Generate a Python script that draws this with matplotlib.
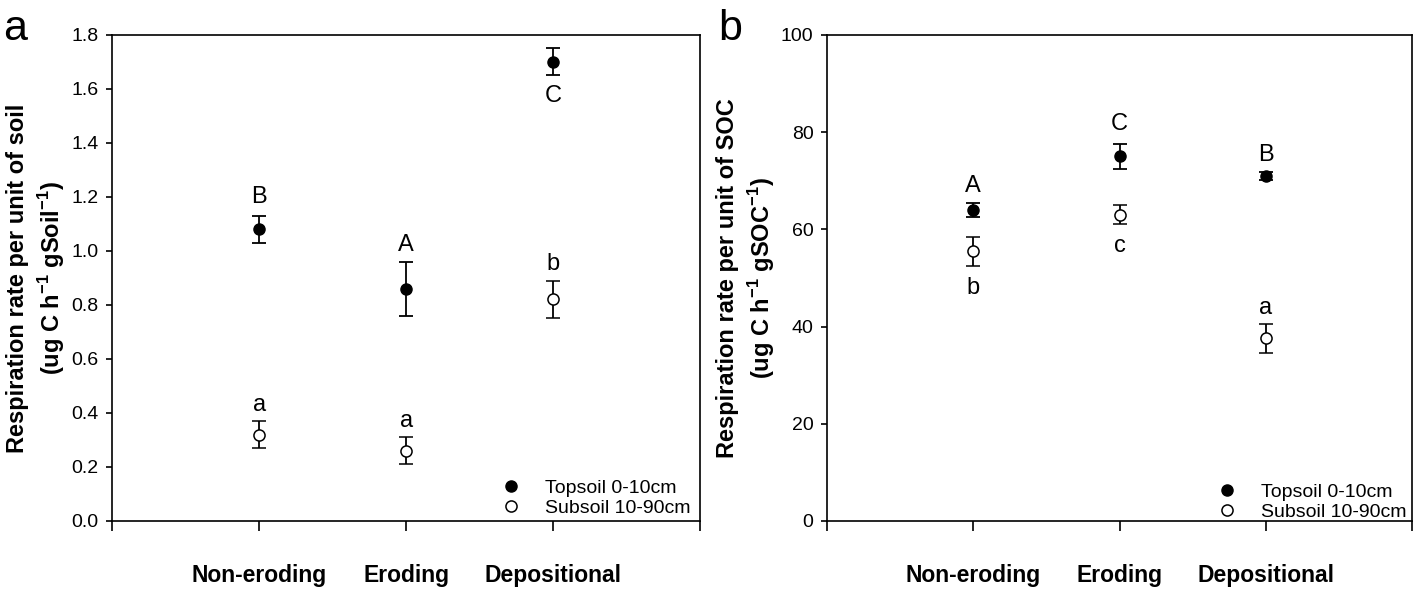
import numpy as np
import matplotlib
matplotlib.use("Agg")
import matplotlib.pyplot as plt

plt.rcParams['font.family'] = ['Liberation Sans', 'DejaVu Sans']
plt.rcParams['mathtext.fontset'] = 'custom'
plt.rcParams['mathtext.rm'] = 'Liberation Sans'
plt.rcParams['mathtext.bf'] = 'Liberation Sans:bold'

sites = ["Non-eroding", "Eroding", "Depositional"]

# panel a: respiration per unit of soil
soil_top = [1.08, 0.86, 1.70]
soil_top_err = [0.05, 0.10, 0.05]
soil_sub = [0.32, 0.26, 0.82]
soil_sub_err = [0.05, 0.05, 0.07]
soil_top_letters = ["B", "A", "C"]
soil_top_letter_y = [1.20, 1.02, 1.575]
soil_sub_letters = ["a", "a", "b"]
soil_sub_letter_y = [0.43, 0.37, 0.95]

# panel b: respiration per unit of SOC
soc_top = [64.0, 75.0, 71.0]
soc_top_err = [1.5, 2.5, 0.8]
soc_sub = [55.5, 63.0, 37.6]
soc_sub_err = [3.0, 2.0, 3.0]
soc_top_letters = ["A", "C", "B"]
soc_top_letter_y = [69.0, 81.7, 75.3]
soc_sub_letters = ["b", "c", "a"]
soc_sub_letter_y = [47.9, 56.6, 43.9]

fig = plt.figure(figsize=(14.18, 5.9), dpi=100)
ax_a = fig.add_axes([0.079, 0.117, 0.415, 0.824])
ax_b = fig.add_axes([0.583, 0.117, 0.413, 0.824])

x = np.arange(1, 4)


def draw_panel(ax, top, top_err, sub, sub_err, top_let, top_let_y, sub_let, sub_let_y,
               ylim, yticks, ylabel, panel, legend_anchor):
    c1 = ax.errorbar(x, top, yerr=top_err, fmt='o', color='black', mfc='black', mec='black',
                     ms=8, capsize=5, elinewidth=1.3, capthick=1.3)
    c2 = ax.errorbar(x, sub, yerr=sub_err, fmt='o', color='black', mfc='white', mec='black',
                     ms=8, mew=1.1, capsize=5, elinewidth=1.3, capthick=1.3)
    for xi, t, ty in zip(x, top_let, top_let_y):
        ax.text(xi, ty, t, ha='center', va='center', fontsize=17)
    for xi, t, ty in zip(x, sub_let, sub_let_y):
        ax.text(xi, ty, t, ha='center', va='center', fontsize=17)

    ax.set_xlim(0, 4)
    ax.set_ylim(*ylim)
    ax.set_yticks(yticks)
    ax.set_xticks([0, 1, 2, 3, 4])
    ax.set_xticklabels([""] + sites + [""], fontweight='bold', fontsize=16.5)
    ax.tick_params(axis='x', direction='out', length=7, width=1.2, pad=24)
    ax.tick_params(axis='y', direction='out', length=4.5, width=1.2, labelsize=14, pad=5)
    ax.tick_params(top=False, right=False)
    for sp in ax.spines.values():
        sp.set_linewidth(1.2)
    ax.set_ylabel(ylabel, fontweight='bold', fontsize=17, labelpad=3, linespacing=1.3)

    ax.legend(handles=[c1[0], c2[0]], labels=['Topsoil 0-10cm', 'Subsoil 10-90cm'],
              loc='lower right', bbox_to_anchor=legend_anchor, frameon=False,
              fontsize=14, handlelength=2, handletextpad=0.75, labelspacing=0.12,
              borderpad=0, borderaxespad=0)
    ax.text(-0.185, 0.99, panel, transform=ax.transAxes, fontsize=31, va='baseline', ha='left')


draw_panel(ax_a, soil_top, soil_top_err, soil_sub, soil_sub_err,
           soil_top_letters, soil_top_letter_y, soil_sub_letters, soil_sub_letter_y,
           (0, 1.8), np.arange(0, 1.81, 0.2),
           "Respiration rate per unit of soil\n(ug C h$^{\\mathbf{-1}}$ gSoil$^{\\mathbf{-1}}$)",
           "a", (0.983, 0.008))
ax_a.set_yticklabels([f"{v:.1f}" for v in np.arange(0, 1.81, 0.2)])

draw_panel(ax_b, soc_top, soc_top_err, soc_sub, soc_sub_err,
           soc_top_letters, soc_top_letter_y, soc_sub_letters, soc_sub_letter_y,
           (0, 100), np.arange(0, 101, 20),
           "Respiration rate per unit of SOC\n(ug C h$^{\\mathbf{-1}}$ gSOC$^{\\mathbf{-1}}$)",
           "b", (0.99, 0.0))

fig.savefig("out.png", dpi=100)
